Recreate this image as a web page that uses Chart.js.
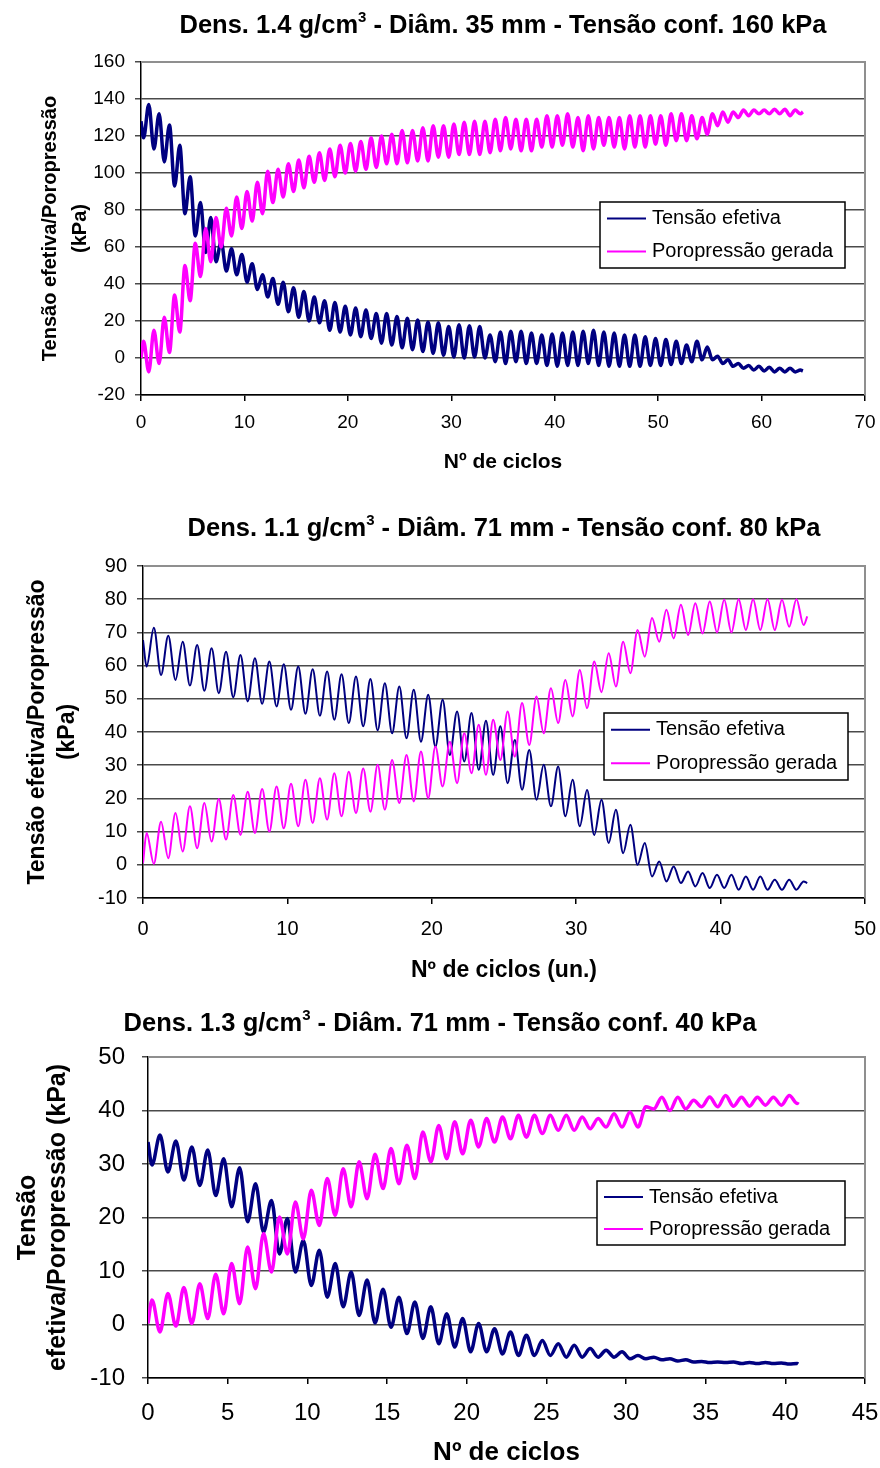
<!DOCTYPE html>
<html lang="pt">
<head>
<meta charset="utf-8">
<title>Ensaios cíclicos - tensão efetiva e poropressão</title>
<script src="https://cdn.jsdelivr.net/npm/chart.js@4.4.1/dist/chart.umd.min.js"></script>
<style>
    html, body { margin: 0; padding: 0; background: #fff; }
    body { width: 880px; height: 1468px; position: relative; overflow: hidden; }
    canvas { position: absolute; left: 0; }
</style>
</head>
<body>
<canvas id="grafico1" width="880" height="480" style="top:0px"></canvas>
<canvas id="grafico2" width="880" height="500" style="top:490px"></canvas>
<canvas id="grafico3" width="880" height="478" style="top:990px"></canvas>
<script>
// Títulos (antes do expoente, expoente, depois)
const titulo1 = ['Dens. 1.4 g/cm', '3', ' - Diâm. 35 mm - Tensão conf. 160 kPa'];
const titulo2 = ['Dens. 1.1 g/cm', '3', ' - Diâm. 71 mm - Tensão conf. 80 kPa'];
const titulo3 = ['Dens. 1.3 g/cm', '3', ' - Diâm. 71 mm - Tensão conf. 40 kPa'];
const rotulos = ['Tensão efetiva', 'Poropressão gerada'];

// Gráfico 1: valores extremos lidos a cada meio ciclo (vale, pico / pico, vale)
const inicioTensao1 = 128, fimTensao1 = -7, ultimoCiclo1 = 64;
const tensao1 = [
    119,137, 113,132, 106,126, 93,115, 78,98, 66,84, 57,76, 52,63, 47,59, 45,56,
    41,51, 37,45, 33,43, 29,41, 25,38, 22,36, 20,33, 19,31, 15,30, 14,28,
    12.5,27, 11.5,26, 10.5,24, 8,24, 7,22.5, 5.5,21.5, 4.5,20.5, 3.5,19.5, 2.5,19, 1.5,17,
    0.5,18, 0,17.5, 0.5,17, 0,12.5, -2,14, -3,14.5, -2,14.5, -3,13.5, -3,12.5, -4,13,
    -4.5,13.5, -4,14, -4,14.5, -3,15, -4,14, -4.5,13.5, -4.5,12.5, -4.5,12.5, -4.5,11.5, -4,10.5,
    -4,10, -3.5,9, -3,7, -2,9, -1,6, -1,1, -3,-1, -4.5,-3, -5.5,-4, -6.5,-4.5,
    -7,-5, -7.5,-5.5, -7.5,-5.5, -7.5,-6.5
];
const inicioPoro1 = 0, fimPoro1 = 133;
const poro1 = [
    9,-7.5, 15,-3, 22,3, 34,14, 50,31, 62,44, 70,52, 76,60, 81,66, 87,70,
    90,74, 95,78, 101,84, 102,87, 105,90, 107,92, 109,95, 111,96, 113,98, 115,100,
    116,101, 117,102, 119,103, 120,105, 121,105, 123,105.5, 123,106.5, 124.5,106.5, 125.5,108.5, 125.5,108.5,
    126.5,110, 127.5,110, 128,110, 128,111, 129,112, 130,113, 129,112, 129,112, 129,114, 131,114,
    131,115, 132,114, 130,112, 131,113, 130,115, 130,114, 130,113, 131,114, 131,114, 131,115.5,
    131,115, 132,117.5, 132,117.5, 131,118.5, 130,121, 132,125.5, 133,127.5, 133,130, 134,131, 134,132,
    134,132, 134.5,132, 134.5,131, 134,132
];

// Gráfico 2
const inicioTensao2 = 67.7, fimTensao2 = -5.5, ultimoCiclo2 = 46;
const tensao2 = [
    59.7,71.4, 57.2,69, 55.7,67.2, 54,66.2, 52.4,65.2, 51.7,64.2, 50.5,63.2, 49.2,62.2, 48.5,61.2, 47.7,60.4,
    46.7,59.7, 45.5,58.9, 44.9,58.2, 43.7,57.4, 42.7,56.7, 41.7,56, 40.5,54.7, 39.6,53.7, 38.1,52.7, 37.1,51.2,
    35.6,49.7, 33.1,46.2, 31.1,45.7, 28.6,43.4, 27.1,41.7, 24.6,37.6, 22.6,34.6, 19.6,30.1, 17.6,29.6, 14.6,25.6,
    11.6,22.5, 9,19.6, 6.6,16.6, 3.5,12.1, 0,6.6, -3.5,1, -5,-0.5, -5.5,-2, -6.5,-2.5, -7,-3,
    -7,-3, -7.5,-3.5, -7.5,-3.5, -7.5,-4.5, -7.5,-4.5, -7.5,-5
];
const inicioPoro2 = 0.5, fimPoro2 = 74.8;
const poro2 = [
    9.6,0.3, 13,2, 15.6,4, 17.6,5, 18.6,7, 19.8,7.6, 21,9, 22,9.6, 22.8,10, 23.6,11,
    24.4,11.6, 25.6,12.6, 26.1,13.6, 27.6,14.6, 28,15.6, 29,16, 30.1,16.6, 31.6,18.6, 33.1,19.1, 34.1,20.1,
    35.6,23.6, 37.1,24.6, 39.6,27.6, 42.2,27.1, 43.7,31.6, 46.2,32.6, 48.7,36.1, 50.7,39.6, 53.2,42.7, 55.7,44.7,
    58.7,47.2, 61.2,52, 63.7,53.7, 67.2,57.7, 70.7,62.7, 74.3,67.2, 76.8,68.2, 78.3,69.2, 78.8,69.7, 79.3,70,
    79.8,70, 80,70.7, 80,70.7, 80,70.7, 79.8,71.7, 80,72.2
];

// Gráfico 3
const inicioTensao3 = 34.1, fimTensao3 = -7.4, ultimoCiclo3 = 40.8;
const tensao3 = [
    29.8,35.4, 28.5,34.3, 27,33.2, 26,32.6, 24.1,31, 22,29.3, 19.2,26.3, 17.3,23.2, 13.2,19.8, 9.8,15.7,
    7.3,13.9, 5.1,11.4, 3.3,9.8, 1.7,8.3, 0.3,6.6, -0.5,5.1, -1.7,4.2, -2.6,3.3, -3.6,2, -4.2,1.1,
    -5.1,0.2, -5.1,-0.8, -5.5,-1.4, -5.8,-2, -5.8,-3, -5.8,-3.6, -6.1,-3.9, -6.1,-4.5, -6.1,-4.8, -6.1,-5.1,
    -6.4,-5.8, -6.4,-6.1, -6.6,-6.4, -6.8,-6.6, -7,-6.9, -7.1,-7, -7.1,-7, -7.3,-7.1, -7.3,-7.1, -7.3,-7.2,
    -7.4,-7.3
];
const inicioPoro3 = 0.2, fimPoro3 = 41.6;
const poro3 = [
    4.6,-1.4, 5.8,-0.3, 6.9,0.2, 7.6,1.1, 9.4,2, 11.4,3.9, 14.5,6.7, 17,9.8, 20.1,13.2, 22.9,16,
    25.1,18.5, 27.3,20.4, 29.1,22, 30.4,23.5, 31.8,25.4, 32.9,26.3, 33.5,27.3, 36,30.4, 37.2,31, 37.9,31.9,
    38.2,33.2, 38.5,34.1, 38.8,34.7, 39.1,35, 39.1,35.7, 39.1,36.3, 39.1,36.3, 38.8,36.6, 38.5,36.9, 39.4,36.9,
    39.7,36.9, 40.7,40.3, 42.5,40, 42.5,40.3, 41.9,40.7, 42.5,40.7, 42.8,40.8, 42.5,40.8, 42.5,41, 42.5,41,
    42.8,41.3
];

const FONTE = '"Liberation Sans", Arial, sans-serif';
Chart.defaults.font.family = FONTE;
Chart.defaults.color = '#000';

// Monta os pontos: início em x=0, extremos a cada meio ciclo (0.25, 0.75, ...), valor final
function serie(inicio, extremos, fim, xFim) {
    const pts = [{ x: 0, y: inicio }];
    extremos.forEach((v, i) => pts.push({ x: 0.25 + 0.5 * i, y: v }));
    pts.push({ x: xFim, y: fim });
    return pts;
}

// Título com expoente (g/cm³)
const tituloPlugin = {
    id: 'tituloExpoente',
    afterDraw(chart, args, o) {
        const ctx = chart.ctx;
        const a = chart.chartArea;
        const [antes, sup, depois] = o.partes;
        const fonte = `bold ${o.tamanho}px ${FONTE}`;
        const fonteSup = `bold ${Math.round(o.tamanho * 0.6)}px ${FONTE}`;
        ctx.save();
        ctx.fillStyle = '#000';
        ctx.textBaseline = 'alphabetic';
        ctx.font = fonte;
        const w1 = ctx.measureText(antes).width;
        const w3 = ctx.measureText(depois).width;
        ctx.font = fonteSup;
        const w2 = ctx.measureText(sup).width;
        const cx = o.centro === 'canvas' ? chart.width / 2 : (a.left + a.right) / 2;
        let x = cx - (w1 + w2 + w3) / 2;
        ctx.font = fonte;
        ctx.fillText(antes, x, o.base);
        x += w1;
        ctx.font = fonteSup;
        ctx.fillText(sup, x, o.base - o.tamanho * 0.45);
        x += w2;
        ctx.font = fonte;
        ctx.fillText(depois, x, o.base);
        ctx.restore();
    }
};

// Moldura cinza (topo e direita) da área do gráfico
const molduraPlugin = {
    id: 'moldura',
    beforeDatasetsDraw(chart) {
        const { ctx, chartArea: a } = chart;
        ctx.save();
        ctx.strokeStyle = '#8f8f8f';
        ctx.lineWidth = 2;
        ctx.beginPath();
        ctx.moveTo(a.left, a.top);
        ctx.lineTo(a.right, a.top);
        ctx.lineTo(a.right, a.bottom);
        ctx.stroke();
        ctx.restore();
    }
};

// Legenda em caixa dentro da área do gráfico
const legendaPlugin = {
    id: 'legendaCaixa',
    afterDraw(chart, args, o) {
        const { ctx, chartArea: a } = chart;
        const x = a.left + o.x, y = a.top + o.y;
        ctx.save();
        ctx.fillStyle = '#fff';
        ctx.fillRect(x, y, o.w, o.h);
        ctx.strokeStyle = '#000';
        ctx.lineWidth = 1.5;
        ctx.strokeRect(x, y, o.w, o.h);
        ctx.font = `${o.tamanho}px ${FONTE}`;
        ctx.textBaseline = 'middle';
        chart.data.datasets.forEach((ds, i) => {
            const ly = y + o.h * (2 * i + 1) / 4;
            ctx.strokeStyle = ds.borderColor;
            ctx.lineWidth = 2;
            ctx.beginPath();
            ctx.moveTo(x + 7, ly);
            ctx.lineTo(x + 46, ly);
            ctx.stroke();
            ctx.fillStyle = '#000';
            ctx.fillText(ds.label, x + 52, ly);
        });
        ctx.restore();
    }
};

function criaGrafico(id, c) {
    return new Chart(document.getElementById(id), {
        type: 'line',
        data: {
            datasets: [
                {
                    label: rotulos[0],
                    data: serie(c.tensao[0], c.tensao[1], c.tensao[2], c.xFim),
                    borderColor: '#000080',
                    borderWidth: c.espessura,
                    pointRadius: 0,
                    cubicInterpolationMode: 'monotone',
                    order: 1
                },
                {
                    label: rotulos[1],
                    data: serie(c.poro[0], c.poro[1], c.poro[2], c.xFim),
                    borderColor: '#ff00ff',
                    borderWidth: c.espessura,
                    pointRadius: 0,
                    cubicInterpolationMode: 'monotone',
                    order: 0
                }
            ]
        },
        options: {
            responsive: false,
            animation: false,
            devicePixelRatio: 1,
            layout: { padding: { left: 0, right: 15, top: c.areaTopo, bottom: 0 } },
            plugins: {
                legend: { display: false },
                tooltip: { enabled: false },
                tituloExpoente: { partes: c.titulo, tamanho: 25.5, base: c.tituloBase, centro: c.centroTitulo },
                legendaCaixa: c.legenda
            },
            scales: {
                x: {
                    type: 'linear',
                    min: 0,
                    max: c.xMax,
                    // altura fixa e sem folga extra para o último rótulo
                    afterFit: s => {
                        s.height = c.alturaX;
                        s.paddingLeft = 0;
                        s.paddingRight = 0;
                    },
                    ticks: { stepSize: c.xPasso, padding: c.xPad, font: { size: c.fonteTicks } },
                    grid: { drawOnChartArea: false, drawTicks: true, tickLength: 6, color: '#000', lineWidth: 1.5 },
                    border: { color: '#000', width: 1.5 },
                    title: {
                        display: true,
                        text: c.tituloX,
                        font: { size: c.fonteTituloX, weight: 'bold' },
                        padding: { top: 0, bottom: c.tituloXPad }
                    }
                },
                y: {
                    min: c.yMin,
                    max: c.yMax,
                    afterFit: s => { s.width = c.larguraY; },
                    ticks: { stepSize: c.yPasso, padding: c.yPad, font: { size: c.fonteTicks } },
                    grid: { color: '#4a4a4a', lineWidth: 1.5, tickLength: 6 },
                    border: { color: '#000', width: 1.5 },
                    title: {
                        display: true,
                        text: c.eixoY,
                        font: { size: c.fonteTituloY, weight: 'bold', lineHeight: c.linhaTituloY },
                        padding: { top: c.tituloYPad, bottom: 0 }
                    }
                }
            }
        },
        plugins: [molduraPlugin, tituloPlugin, legendaPlugin]
    });
}

criaGrafico('grafico1', {
    tensao: [inicioTensao1, tensao1, fimTensao1],
    poro: [inicioPoro1, poro1, fimPoro1],
    xFim: ultimoCiclo1, espessura: 3.5,
    titulo: titulo1, tituloBase: 33, centroTitulo: 'area',
    areaTopo: 62, alturaX: 85, larguraY: 141,
    xMax: 70, xPasso: 10, xPad: 10,
    yMin: -20, yMax: 160, yPasso: 20, yPad: 10,
    fonteTicks: 19,
    tituloX: 'Nº de ciclos', fonteTituloX: 21, tituloXPad: 5,
    eixoY: ['Tensão efetiva/Poropressão', '(kPa)'], fonteTituloY: 20, linhaTituloY: 1.5, tituloYPad: 35,
    legenda: { x: 459, y: 140, w: 245, h: 66, tamanho: 20 }
});

criaGrafico('grafico2', {
    tensao: [inicioTensao2, tensao2, fimTensao2],
    poro: [inicioPoro2, poro2, fimPoro2],
    xFim: ultimoCiclo2, espessura: 2,
    titulo: titulo2, tituloBase: 46, centroTitulo: 'area',
    areaTopo: 76, alturaX: 92, larguraY: 143,
    xMax: 50, xPasso: 10, xPad: 13,
    yMin: -10, yMax: 90, yPasso: 10, yPad: 10,
    fonteTicks: 20,
    tituloX: 'Nº de ciclos (un.)', fonteTituloX: 23, tituloXPad: 6,
    eixoY: ['Tensão efetiva/Poropressão', '(kPa)'], fonteTituloY: 23, linhaTituloY: 1.3, tituloYPad: 23,
    legenda: { x: 461, y: 147, w: 244, h: 67, tamanho: 20 }
});

criaGrafico('grafico3', {
    tensao: [inicioTensao3, tensao3, fimTensao3],
    poro: [inicioPoro3, poro3, fimPoro3],
    xFim: ultimoCiclo3, espessura: 3.5,
    titulo: titulo3, tituloBase: 41, centroTitulo: 'canvas',
    areaTopo: 67, alturaX: 90, larguraY: 148,
    xMax: 45, xPasso: 5, xPad: 15,
    yMin: -10, yMax: 50, yPasso: 10, yPad: 17,
    fonteTicks: 24,
    tituloX: 'Nº de ciclos', fonteTituloX: 26, tituloXPad: 0,
    eixoY: ['Tensão', 'efetiva/Poropressão (kPa)'], fonteTituloY: 25, linhaTituloY: 1.2, tituloYPad: 13,
    legenda: { x: 449, y: 124, w: 248, h: 64, tamanho: 20 }
});
</script>
</body>
</html>
